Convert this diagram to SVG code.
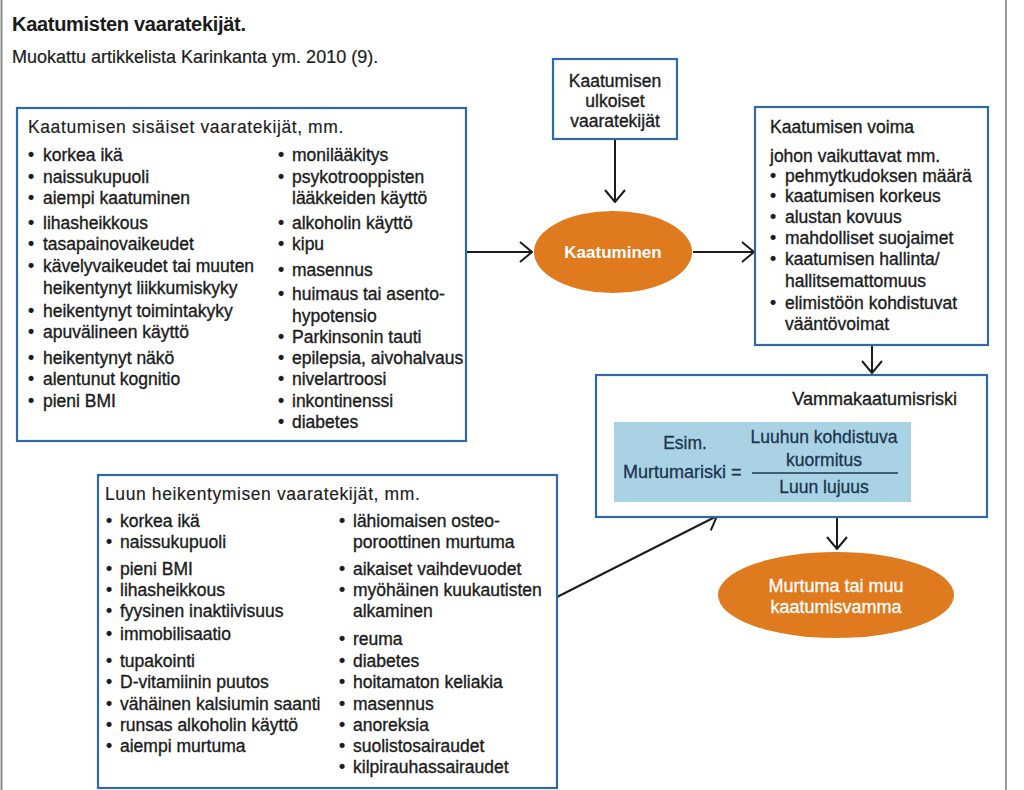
<svg xmlns="http://www.w3.org/2000/svg" width="1024" height="790" viewBox="0 0 1024 790">
<defs>
<style>
.t{font-family:"Liberation Sans",Arial,sans-serif;font-size:17.5px;fill:#1c1c1c;stroke:#1c1c1c;stroke-width:0.35}
.h{letter-spacing:0.6px;stroke-width:0.15}
.b{stroke:#2f6aa6;stroke-width:2.2;fill:#fff}
.c{stroke:#1c1c1c;stroke-width:2;fill:none}
.w{font-family:"Liberation Sans",Arial,sans-serif;font-size:17px;fill:#fff;font-weight:bold;text-anchor:middle}
.f{font-family:"Liberation Sans",Arial,sans-serif;font-size:17.5px;fill:#1d3450;stroke:#1d3450;stroke-width:0.3}
.o{fill:#e07a1f}
</style>
<marker id="ah" viewBox="0 0 14 22" refX="13" refY="11" markerWidth="14" markerHeight="22" markerUnits="userSpaceOnUse" orient="auto">
<path d="M1,1 L13,11 L1,21" fill="none" stroke="#1c1c1c" stroke-width="2"/>
</marker>
</defs>
<rect width="1024" height="790" fill="#fff"/>
<line x1="1.5" y1="0" x2="1.5" y2="790" stroke="#8a8a8a" stroke-width="2"/>
<line x1="1006" y1="0" x2="1006" y2="790" stroke="#9a9a9a" stroke-width="2"/>
<g id="title">
<text x="12" y="31" class="t" style="font-size:20px;font-weight:bold;letter-spacing:-0.3px;stroke-width:0">Kaatumisten vaaratekijät.</text>
<text x="12" y="63" class="t" style="font-size:18px;stroke-width:0.2">Muokattu artikkelista Karinkanta ym. 2010 (9).</text>
</g>
<g id="connectors">
<line x1="466" y1="252" x2="532" y2="252" class="c" marker-end="url(#ah)"/>
<line x1="615" y1="139" x2="615" y2="202" class="c" marker-end="url(#ah)"/>
<line x1="693" y1="252" x2="754" y2="252" class="c" marker-end="url(#ah)"/>
<line x1="872" y1="345" x2="872" y2="373" class="c" marker-end="url(#ah)"/>
<line x1="837" y1="517" x2="837" y2="549" class="c" marker-end="url(#ah)"/>
<line x1="557" y1="597" x2="717" y2="516" class="c" marker-end="url(#ah)"/>
</g>
<g id="sisaiset">
<rect x="17" y="108" width="449" height="333" class="b"/>
<text class="t h" x="28" y="133">Kaatumisen sisäiset vaaratekijät, mm.</text>
<g class="t">
<text x="28" y="161">•</text><text x="43" y="161">korkea ikä</text>
<text x="28" y="183">•</text><text x="43" y="183">naissukupuoli</text>
<text x="28" y="204">•</text><text x="43" y="204">aiempi kaatuminen</text>
<text x="28" y="229">•</text><text x="43" y="229">lihasheikkous</text>
<text x="28" y="250">•</text><text x="43" y="250">tasapainovaikeudet</text>
<text x="28" y="272">•</text><text x="43" y="272">kävelyvaikeudet tai muuten</text>
<text x="43" y="294">heikentynyt liikkumiskyky</text>
<text x="28" y="317">•</text><text x="43" y="317">heikentynyt toimintakyky</text>
<text x="28" y="338">•</text><text x="43" y="338">apuvälineen käyttö</text>
<text x="28" y="364">•</text><text x="43" y="364">heikentynyt näkö</text>
<text x="28" y="385">•</text><text x="43" y="385">alentunut kognitio</text>
<text x="28" y="407">•</text><text x="43" y="407">pieni BMI</text>
<text x="278" y="161">•</text><text x="292" y="161">monilääkitys</text>
<text x="278" y="183">•</text><text x="292" y="183">psykotrooppisten</text>
<text x="292" y="204">lääkkeiden käyttö</text>
<text x="278" y="229">•</text><text x="292" y="229">alkoholin käyttö</text>
<text x="278" y="250">•</text><text x="292" y="250">kipu</text>
<text x="278" y="276">•</text><text x="292" y="276">masennus</text>
<text x="278" y="300">•</text><text x="292" y="300">huimaus tai asento-</text>
<text x="292" y="322">hypotensio</text>
<text x="278" y="343">•</text><text x="292" y="343">Parkinsonin tauti</text>
<text x="278" y="364">•</text><text x="292" y="364">epilepsia, aivohalvaus</text>
<text x="278" y="385">•</text><text x="292" y="385">nivelartroosi</text>
<text x="278" y="407">•</text><text x="292" y="407">inkontinenssi</text>
<text x="278" y="428">•</text><text x="292" y="428">diabetes</text>
</g>
</g>
<g id="ulkoiset">
<rect x="553" y="59" width="124" height="80" class="b"/>
<g class="t" style="font-size:17.5px;text-anchor:middle">
<text x="615" y="87">Kaatumisen</text>
<text x="615" y="107">ulkoiset</text>
<text x="615" y="127">vaaratekijät</text>
</g>
</g>
<g id="kaatuminen">
<ellipse cx="613" cy="252" rx="79" ry="41" class="o"/>
<text x="613" y="258" class="w">Kaatuminen</text>
</g>
<g id="voima">
<rect x="755" y="107" width="233" height="238" class="b"/>
<g class="t">
<text x="770" y="133">Kaatumisen voima</text>
<text x="770" y="162">johon vaikuttavat mm.</text>
<text x="770" y="182">•</text><text x="785" y="182">pehmytkudoksen määrä</text>
<text x="770" y="202">•</text><text x="785" y="202">kaatumisen korkeus</text>
<text x="770" y="223">•</text><text x="785" y="223">alustan kovuus</text>
<text x="770" y="244">•</text><text x="785" y="244">mahdolliset suojaimet</text>
<text x="770" y="265">•</text><text x="785" y="265">kaatumisen hallinta/</text>
<text x="785" y="287">hallitsemattomuus</text>
<text x="770" y="309">•</text><text x="785" y="309">elimistöön kohdistuvat</text>
<text x="785" y="330">vääntövoimat</text>
</g>
</g>
<g id="vammariski">
<rect x="596" y="375" width="391" height="142" class="b"/>
<text x="957" y="405" class="t" style="text-anchor:end;font-size:18px">Vammakaatumisriski</text>
<rect x="614" y="422" width="297" height="80" fill="#a9d3e5"/>
<g class="f">
<text x="685" y="449" style="text-anchor:middle">Esim.</text>
<text x="623" y="478" style="font-size:18px">Murtumariski =</text>
<text x="824" y="443" style="text-anchor:middle">Luuhun kohdistuva</text>
<text x="824" y="466" style="text-anchor:middle">kuormitus</text>
<text x="824" y="493" style="text-anchor:middle">Luun lujuus</text>
</g>
<line x1="752" y1="473" x2="898" y2="473" stroke="#1d3450" stroke-width="1.3"/>
</g>
<g id="murtuma">
<ellipse cx="836" cy="595" rx="118" ry="43" class="o"/>
<text x="836" y="592" class="w" style="font-weight:normal;font-size:18px;stroke:#fff;stroke-width:0.3">Murtuma tai muu</text>
<text x="836" y="613" class="w" style="font-weight:normal;font-size:18px;stroke:#fff;stroke-width:0.3">kaatumisvamma</text>
</g>
<g id="luun">
<rect x="98" y="475" width="459" height="313" class="b"/>
<text class="t h" x="105" y="500">Luun heikentymisen vaaratekijät, mm.</text>
<g class="t">
<text x="106" y="527">•</text><text x="120" y="527">korkea ikä</text>
<text x="106" y="548">•</text><text x="120" y="548">naissukupuoli</text>
<text x="106" y="575">•</text><text x="120" y="575">pieni BMI</text>
<text x="106" y="596">•</text><text x="120" y="596">lihasheikkous</text>
<text x="106" y="617">•</text><text x="120" y="617">fyysinen inaktiivisuus</text>
<text x="106" y="640">•</text><text x="120" y="640">immobilisaatio</text>
<text x="106" y="667">•</text><text x="120" y="667">tupakointi</text>
<text x="106" y="688">•</text><text x="120" y="688">D-vitamiinin puutos</text>
<text x="106" y="710">•</text><text x="120" y="710">vähäinen kalsiumin saanti</text>
<text x="106" y="731">•</text><text x="120" y="731">runsas alkoholin käyttö</text>
<text x="106" y="752">•</text><text x="120" y="752">aiempi murtuma</text>
<text x="339" y="527">•</text><text x="353" y="527">lähiomaisen osteo-</text>
<text x="353" y="548">poroottinen murtuma</text>
<text x="339" y="575">•</text><text x="353" y="575">aikaiset vaihdevuodet</text>
<text x="339" y="596">•</text><text x="353" y="596">myöhäinen kuukautisten</text>
<text x="353" y="617">alkaminen</text>
<text x="339" y="645">•</text><text x="353" y="645">reuma</text>
<text x="339" y="667">•</text><text x="353" y="667">diabetes</text>
<text x="339" y="688">•</text><text x="353" y="688">hoitamaton keliakia</text>
<text x="339" y="710">•</text><text x="353" y="710">masennus</text>
<text x="339" y="731">•</text><text x="353" y="731">anoreksia</text>
<text x="339" y="752">•</text><text x="353" y="752">suolistosairaudet</text>
<text x="339" y="773">•</text><text x="353" y="773">kilpirauhassairaudet</text>
</g>
</g>
</svg>
